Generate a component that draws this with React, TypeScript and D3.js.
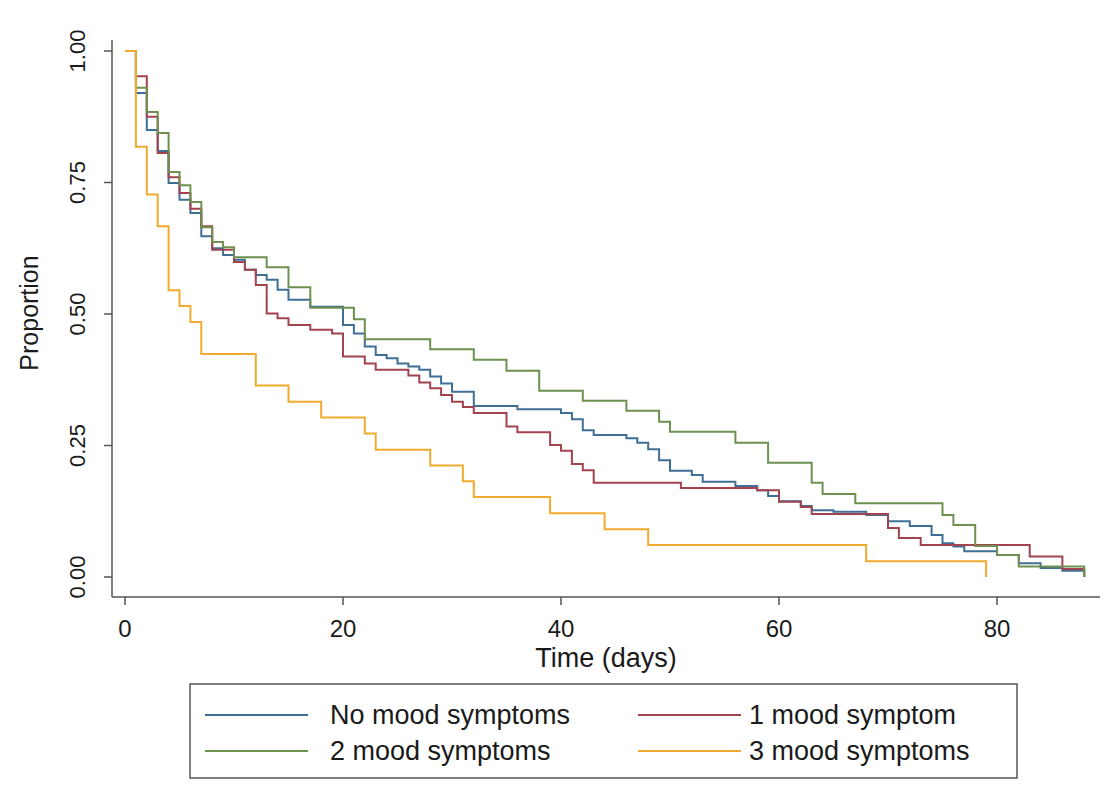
import React from "react";
import * as d3 from "d3";

// ---- data (Kaplan–Meier style step curves) ----
const seriesNames = ["No mood symptoms", "1 mood symptom", "2 mood symptoms", "3 mood symptoms"];
const seriesColors = ["#3f6f96", "#a3434f", "#6e9150", "#f0ab2e"];

const noMoodDays = [0,1,2,3,4,5,6,7,8,9,10,11,12,13,14,15,17,20,21,22,23,24,25,26,27,28,29,30,32,36,40,41,42,43,46,47,48,49,50,52,53,56,58,59,60,62,63,65,68,70,72,74,75,76,77,80,82,84,86,88];
const noMoodSurv = [1,0.92,0.85,0.81,0.749,0.717,0.692,0.648,0.625,0.612,0.603,0.584,0.574,0.565,0.546,0.527,0.514,0.479,0.463,0.438,0.422,0.416,0.406,0.400,0.394,0.381,0.368,0.352,0.325,0.319,0.312,0.300,0.279,0.270,0.264,0.255,0.243,0.222,0.202,0.194,0.181,0.173,0.165,0.154,0.144,0.135,0.127,0.124,0.118,0.106,0.097,0.080,0.064,0.058,0.049,0.042,0.026,0.017,0.012,0];

const oneMoodDays = [0,1,2,3,4,5,6,7,8,10,11,12,13,14,15,17,19,20,22,23,26,27,28,29,30,31,32,35,36,39,40,41,42,43,51,58,60,62,63,70,71,73,83,86,88];
const oneMoodSurv = [1,0.952,0.875,0.806,0.760,0.730,0.700,0.667,0.622,0.599,0.584,0.555,0.501,0.492,0.479,0.470,0.463,0.419,0.406,0.394,0.383,0.370,0.359,0.346,0.333,0.323,0.312,0.286,0.275,0.251,0.240,0.215,0.203,0.179,0.169,0.165,0.143,0.133,0.120,0.093,0.074,0.061,0.039,0.015,0];

const twoMoodDays = [0,1,2,3,4,5,6,7,8,9,10,13,15,17,21,22,28,32,35,38,42,46,49,50,56,59,63,64,67,75,76,78,80,82,88];
const twoMoodSurv = [1,0.93,0.884,0.844,0.77,0.745,0.713,0.665,0.637,0.627,0.608,0.589,0.551,0.512,0.490,0.452,0.433,0.413,0.392,0.354,0.335,0.316,0.295,0.276,0.255,0.217,0.179,0.158,0.140,0.118,0.099,0.059,0.042,0.020,0];

const threeMoodDays = [0,1,2,3,4,5,6,7,12,15,18,22,23,28,31,32,39,44,48,68,79];
const threeMoodSurv = [1,0.818,0.727,0.667,0.545,0.515,0.485,0.424,0.364,0.333,0.303,0.273,0.242,0.212,0.182,0.152,0.121,0.091,0.061,0.030,0];

const xTicks = [0, 20, 40, 60, 80];
const yTicks = [0, 0.25, 0.5, 0.75, 1];
const xTitle = "Time (days)";
const yTitle = "Proportion";

const allDays = [noMoodDays, oneMoodDays, twoMoodDays, threeMoodDays];
const allSurv = [noMoodSurv, oneMoodSurv, twoMoodSurv, threeMoodSurv];

export default function App() {
  const W = 1109, H = 809;
  const x = d3.scaleLinear().domain([0, 80]).range([125, 997]);
  const y = d3.scaleLinear().domain([0, 1]).range([577, 51]);
  const axisLeft = 112, axisBottom = 597, axisTop = 40, axisRight = 1100;
  const line = d3.line<[number, number]>()
    .x(d => x(d[0]))
    .y(d => y(d[1]))
    .curve(d3.curveStepAfter);
  const font = "'Liberation Sans', Arial, Helvetica, sans-serif";
  const axisColor = "#555";
  const textColor = "#1a1a1a";

  const legendRows = [
    { col: 0, row: 0 }, { col: 1, row: 0 }, { col: 0, row: 1 }, { col: 1, row: 1 },
  ];
  const legendColX = [205, 638];
  const legendRowY = [715, 751];

  return (
    <svg width={W} height={H} style={{ position: "absolute", left: 0, top: 0, background: "#fff" }}>
      <rect x={0} y={0} width={W} height={H} fill="#fff" />
      {/* axes */}
      <line x1={axisLeft} y1={axisTop} x2={axisLeft} y2={axisBottom} stroke={axisColor} strokeWidth={1.5} />
      <line x1={axisLeft} y1={axisBottom} x2={axisRight} y2={axisBottom} stroke={axisColor} strokeWidth={1.5} />
      {yTicks.map(t => (
        <g key={"y" + t}>
          <line x1={axisLeft - 8} x2={axisLeft} y1={y(t)} y2={y(t)} stroke={axisColor} strokeWidth={1.5} />
          <text transform={`translate(${axisLeft - 27},${y(t)}) rotate(-90)`} textAnchor="middle"
            fontFamily={font} fontSize={22} fill={textColor}>{d3.format(".2f")(t)}</text>
        </g>
      ))}
      {xTicks.map(t => (
        <g key={"x" + t}>
          <line x1={x(t)} x2={x(t)} y1={axisBottom} y2={axisBottom + 8} stroke={axisColor} strokeWidth={1.5} />
          <text x={x(t)} y={axisBottom + 40} textAnchor="middle" fontFamily={font} fontSize={24} fill={textColor}>{t}</text>
        </g>
      ))}
      <text x={606} y={667} textAnchor="middle" fontFamily={font} fontSize={27} fill={textColor}>{xTitle}</text>
      <text transform={`translate(38,313) rotate(-90)`} textAnchor="middle" fontFamily={font} fontSize={25} fill={textColor}>{yTitle}</text>

      {/* curves */}
      {allDays.map((days, i) => {
        const pts: [number, number][] = days.map((d, j) => [d, allSurv[i][j]]);
        return <path key={i} d={line(pts) || ""} fill="none" stroke={seriesColors[i]} strokeWidth={2} />;
      })}

      {/* legend */}
      <rect x={190} y={684} width={827} height={94} fill="#fff" stroke="#555" strokeWidth={1.5} />
      {seriesNames.map((name, i) => {
        const { col, row } = legendRows[i];
        const lx = legendColX[col];
        const ly = legendRowY[row];
        return (
          <g key={name}>
            <line x1={lx} x2={lx + 103} y1={ly} y2={ly} stroke={seriesColors[i]} strokeWidth={2} />
            <text x={col === 0 ? 330 : 749} y={ly + 9} fontFamily={font} fontSize={27} fill={textColor}>{name}</text>
          </g>
        );
      })}
    </svg>
  );
}
